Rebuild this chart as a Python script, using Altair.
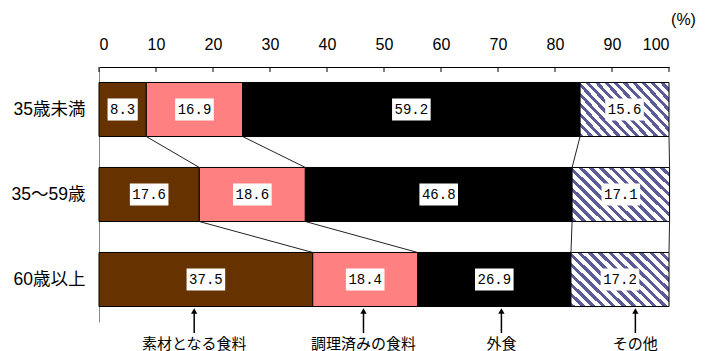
import json
import altair as alt
import pandas as pd

# ---- data ----
categories = ["35歳未満", "35～59歳", "60歳以上"]
segments = ["素材となる食料", "調理済みの食料", "外食", "その他"]
material = [8.3, 17.6, 37.5]
prepared = [16.9, 18.6, 18.4]
eating_out = [59.2, 46.8, 26.9]
other = [15.6, 17.1, 17.2]
arrow_pos = [16.7, 46.4, 70.6, 94.1]
x_ticks = list(range(0, 101, 10))

seg_values = [material, prepared, eating_out, other]
seg_colors = ["#663300", "#FF8080", "#000000", "#FFFFFF"]

HALF = 0.318          # half bar height in row units
BOX_H = 0.13          # half label-box height in row units
PX_PER_UNIT = 5.7     # x pixels per percent
CHAR_W = 8.4

recs = []
ends = []
for i, cat in enumerate(categories):
    cum = 0.0
    row_ends = []
    for s, vals in zip(segments, seg_values):
        v = vals[i]
        lab = f"{v:.1f}"
        hw = (len(lab) * CHAR_W + 5) / 2 / PX_PER_UNIT
        mid = cum + v / 2
        recs.append(dict(cat=cat, row=i, seg=s, start=cum, end=cum + v, mid=mid,
                         label=lab, y0=i - HALF, y1=i + HALF,
                         bx0=mid - hw, bx1=mid + hw, by0=i - BOX_H, by1=i + BOX_H))
        cum += v
        row_ends.append(cum)
    ends.append(row_ends)
df = pd.DataFrame(recs)

con = []
for i in range(len(categories) - 1):
    for k in range(len(segments)):
        con.append(dict(x=ends[i][k], x2=ends[i + 1][k], y=i + HALF, y2=i + 1 - HALF))
df_con = pd.DataFrame(con)
df_arrow = pd.DataFrame(dict(x=arrow_pos, name=segments))
df_ticks = pd.DataFrame(dict(t=x_ticks))

FONT = "Liberation Sans, Noto Sans CJK JP"

xscale = alt.Scale(domain=[0, 100], nice=False, zero=False)
yscale = alt.Scale(domain=[-0.5, 2.5], nice=False, zero=False, reverse=True)

label_expr = json.dumps(categories, ensure_ascii=False) + "[datum.value]"

xaxis = alt.Axis(orient="top", values=x_ticks, ticks=False, grid=False,
                 domainColor="#000000", domainWidth=1, labelPadding=15,
                 labelFontSize=16, labelFont=FONT, labelColor="#000000",
                 title="(%)", titleFontSize=16, titleFont=FONT, titleFontWeight="normal",
                 titleAngle=0, titleX=584, titleY=-48, titleAlign="center",
                 titleBaseline="middle", titleColor="#000000")
yaxis = alt.Axis(values=[0, 1, 2], labelExpr=label_expr, ticks=False, grid=False,
                 domainColor="#888888", domainWidth=1, labelPadding=14,
                 labelFontSize=17.5, labelFont=FONT, labelColor="#000000", title=None)


def X(field):
    return alt.X(field, scale=xscale, axis=xaxis)


def Y(field):
    return alt.Y(field, scale=yscale, axis=yaxis)


base = alt.Chart(df)

solid = base.transform_filter(alt.datum.seg != segments[3]).mark_rect(
    stroke="#000000", strokeWidth=1
).encode(
    x=X("start:Q"), x2="end:Q",
    y=Y("y0:Q"), y2="y1:Q",
    fill=alt.Fill("seg:N", scale=alt.Scale(domain=segments, range=seg_colors), legend=None),
)

navy = "#5b5b99"
N = 15
dark = 0.45
stops = []
for j in range(N):
    a, b, c = j / N, (j + dark) / N, (j + 1) / N
    stops += [alt.GradientStop(color=navy, offset=a), alt.GradientStop(color=navy, offset=b),
              alt.GradientStop(color="#FFFFFF", offset=b), alt.GradientStop(color="#FFFFFF", offset=c)]
hatch = alt.Gradient(gradient="linear", stops=stops, x1=0, y1=1, x2=1.185, y2=0.327)

other_bar = base.transform_filter(alt.datum.seg == segments[3]).mark_rect(
    stroke="#000000", strokeWidth=1, fill=hatch
).encode(
    x=X("start:Q"), x2="end:Q",
    y=Y("y0:Q"), y2="y1:Q",
)

connectors = alt.Chart(df_con).mark_rule(color="#222222", strokeWidth=1).encode(
    x=X("x:Q"), x2="x2:Q",
    y=Y("y:Q"), y2="y2:Q",
)

boxes = base.mark_rect(fill="#FFFFFF").encode(
    x=X("bx0:Q"), x2="bx1:Q",
    y=Y("by0:Q"), y2="by1:Q",
)

texts = base.mark_text(font="Liberation Mono", fontSize=14, color="#000000",
                       baseline="middle", align="center").encode(
    x=X("mid:Q"),
    y=Y("row:Q"),
    text="label:N",
)

ticks = alt.Chart(df_ticks).mark_rule(color="#000000", strokeWidth=1).encode(
    x=X("t:Q"),
    y=alt.value(0), y2=alt.value(5),
)

arrow_stem = alt.Chart(df_arrow).mark_rule(color="#000000", strokeWidth=1.5).encode(
    x=X("x:Q"),
    y=alt.value(244), y2=alt.value(266),
)
arrow_head = alt.Chart(df_arrow).mark_point(shape="triangle-up", filled=True, size=40,
                                            color="#000000", opacity=1).encode(
    x=X("x:Q"),
    y=alt.value(244),
)
arrow_text = alt.Chart(df_arrow).mark_text(font=FONT, fontSize=15, color="#000000",
                                           baseline="middle", align="center").encode(
    x=X("x:Q"),
    y=alt.value(277),
    text="name:N",
)

chart = alt.layer(
    solid, other_bar, connectors, boxes, texts, ticks, arrow_stem, arrow_head, arrow_text
).properties(
    width=570, height=255, autosize="none",
    padding={"left": 99, "top": 67, "right": 41, "bottom": 29},
    background="#FFFFFF",
).configure_view(stroke=None)

chart.save("out.html", embed_options={"renderer": "svg", "actions": False})
